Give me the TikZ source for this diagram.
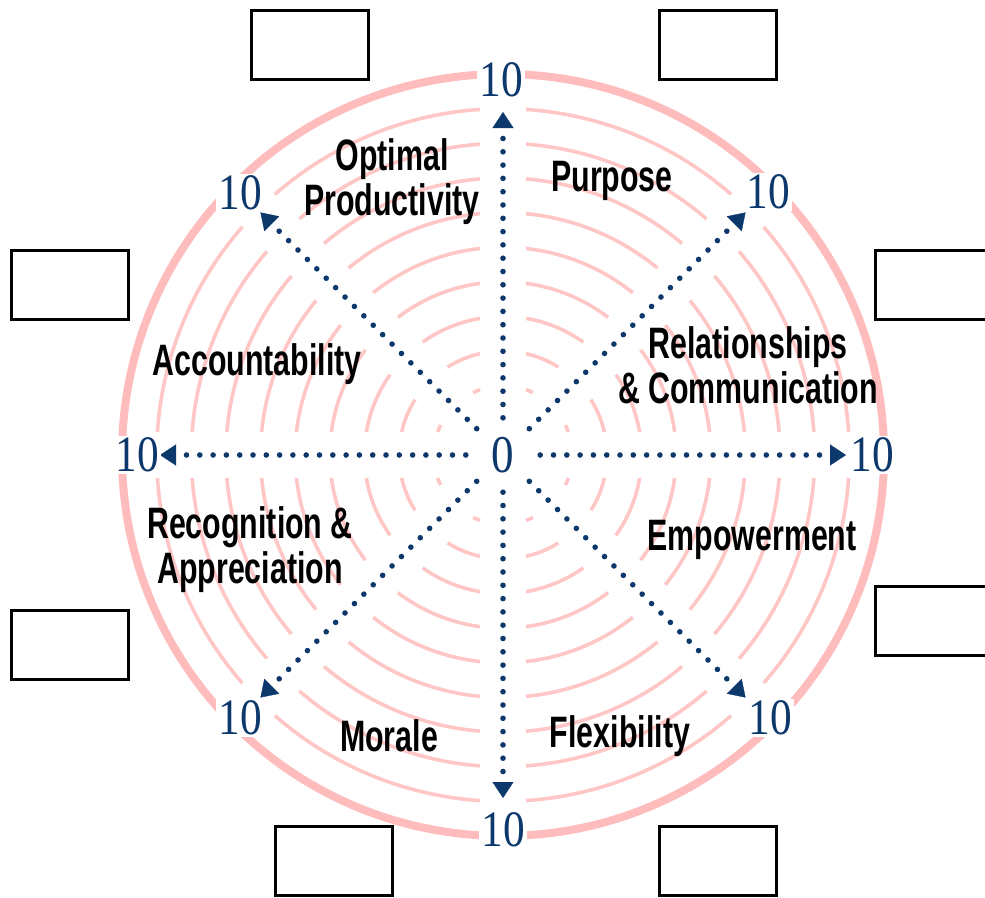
\documentclass[tikz,border=0pt]{standalone}
\usepackage{fontspec}
\usetikzlibrary{arrows.meta}
\newfontfamily\labfont[FakeStretch=0.69]{Liberation Sans}
\newfontfamily\numfont[FakeStretch=0.85]{Liberation Serif}
\definecolor{ringpink}{RGB}{255,198,198}
\definecolor{rimpink}{RGB}{255,188,188}
\definecolor{navy}{RGB}{12,56,108}

\begin{document}
\begin{tikzpicture}[x=1pt,y=-1pt,
  ring/.style={ringpink,line width=3.6pt},
  rim/.style={rimpink,line width=8pt},
  spoke/.style={navy,line width=5.6pt,line cap=round,dash pattern=on 0pt off 13.3pt,
    -{Triangle[length=16pt,width=21pt,line width=0.4pt]}},
  score/.style={text=navy,fill=white,inner sep=2pt,font=\numfont\fontsize{51}{51}\selectfont},
  area/.style={text=black,align=center,inner sep=0pt,font=\labfont\bfseries\fontsize{44}{45}\selectfont},
  box/.style={draw=black,line width=3pt,fill=white,minimum width=117pt,minimum height=69pt,inner sep=0pt}]
\useasboundingbox (0,0) rectangle (985,897);
\clip (0,0) rectangle (985,897);

\coordinate (o) at (503,455);

% concentric score rings, broken where the spokes cross them
\begin{scope}[shift={(o)}]
  \foreach \k in {2,...,10}{
    \pgfmathsetmacro\r{381*\k/11}
    \pgfmathsetmacro\g{asin(23/\r)}
    \foreach \j in {0,...,7}{
      \draw[ring] ({45*\j+\g}:\r) arc[start angle={45*\j+\g}, end angle={45*\j+45-\g}, radius=\r];
    }
  }
  \draw[rim] (0,0) circle[radius=381];
  \foreach \j in {0,...,7}{
    \coordinate (tip\j) at (45*\j:343);
  }
\end{scope}

% hub and spokes
\node[circle,minimum size=74pt,inner sep=0pt,text=navy,font=\numfont\fontsize{53}{53}\selectfont] (c) at (o) {0};
\foreach \j in {0,...,7}{
  \draw[spoke] (c) -- (tip\j);
}

% scale end values
\node[score] (s0) at (872,455) {10};
\node[score] (s1) at (768,192) {10};
\node[score] (s2) at (501,80) {10};
\node[score] (s3) at (240,193) {10};
\node[score] (s4) at (137,455) {10};
\node[score] (s5) at (240,718) {10};
\node[score] (s6) at (503,830) {10};
\node[score] (s7) at (770,718) {10};

% segment names
\node[area] (a1) at (392,182) {Optimal\\Productivity};
\node[area] (a2) at (612,181) {Purpose};
\node[area] (a3) at (748,365) {Relationships\\\& Communication};
\node[area] (a4) at (257,364) {Accountability};
\node[area] (a5) at (752,540) {Empowerment};
\node[area] (a6) at (250,550) {Recognition \&\\Appreciation};
\node[area] (a7) at (389,736) {Morale};
\node[area] (a8) at (620,736) {Flexibility};

% blank answer boxes
\node[box] (b1) at (310,44.5) {};
\node[box] (b2) at (718,44.5) {};
\node[box] (b3) at (70,285) {};
\node[box] (b4) at (934,285) {};
\node[box] (b5) at (70,645) {};
\node[box] (b6) at (934,621) {};
\node[box] (b7) at (334,860.5) {};
\node[box] (b8) at (718,860.5) {};
\end{tikzpicture}
\end{document}
